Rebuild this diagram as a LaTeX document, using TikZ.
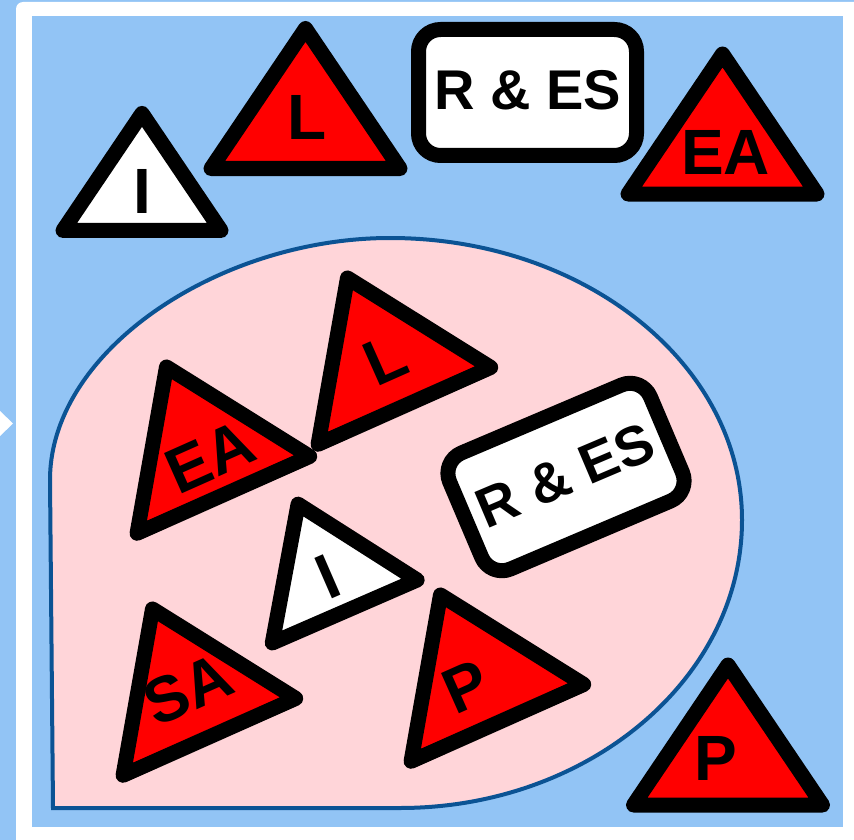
\documentclass[tikz,border=0pt]{standalone}
\usepackage{fontspec}
\setsansfont{Liberation Sans}
\usepackage{xcolor}
\definecolor{skyback}{HTML}{92C4F5}
\definecolor{blushfill}{HTML}{FFD5D9}
\definecolor{blobline}{HTML}{0B5394}

\begin{document}
\begin{tikzpicture}[x=1pt, y=-1pt,
  sign/.style={draw=black, line width=15pt, line join=round},
  lbl/.style={font=\sffamily\bfseries\fontsize{64}{64}\selectfont, inner sep=0pt},
  boxlbl/.style={font=\sffamily\bfseries\fontsize{56}{56}\selectfont, inner sep=0pt}]
  \useasboundingbox (0,0) rectangle (854,840);
  % Background and white frame
  \fill[skyback] (0,0) rectangle (854,840);
  \fill[white, rounded corners=7pt] (16,2) rectangle (880,870);
  \fill[skyback] (32,16) rectangle (843,827);
  \fill[white] (0,411) -- (13,423.5) -- (0,436) -- cycle;
  % Pink region
  \draw[blobline, line width=4pt, fill=blushfill] (53,808) -- (50,480)
    .. controls (50,350) and (220,238) .. (390,238)
    .. controls (584,238) and (742,364) .. (742,520)
    .. controls (742,679) and (588,808) .. (400,808) -- cycle;
  % Top row: loose signs
  \begin{scope}[shift={(142,188.5)}, scale=0.836]
    \draw[sign, fill=white] (0,-89.8) -- (94.5,50.2) -- (-94.5,50.2) -- cycle;
    \node[lbl] (topI) at (0,4) {I};
  \end{scope}
  \begin{scope}[shift={(305.5,118.3)}]
    \draw[sign, fill=red] (0,-89.8) -- (94.5,50.2) -- (-94.5,50.2) -- cycle;
    \node[lbl] (topL) at (2,-1) {L};
  \end{scope}
  \begin{scope}[shift={(527.5,92.5)}]
    \draw[sign, fill=white, rounded corners=22pt] (-109,-63) rectangle (109,63);
    \node[boxlbl] (topRES) at (0,-2) {R \& ES};
  \end{scope}
  \begin{scope}[shift={(722.5,143.8)}]
    \draw[sign, fill=red] (0,-89.8) -- (94.5,50.2) -- (-94.5,50.2) -- cycle;
    \node[lbl] (topEA) at (3,9) {EA};
  \end{scope}
  \begin{scope}[shift={(728,754.8)}]
    \draw[sign, fill=red] (0,-89.8) -- (94.5,50.2) -- (-94.5,50.2) -- cycle;
    \node[lbl] (outP) at (-12,4) {P};
  \end{scope}
  % Inside the pink region: tilted signs
  \begin{scope}[shift={(203,449)}, rotate=24]
    \draw[sign, fill=red] (0,-89.8) -- (94.5,50.2) -- (-94.5,50.2) -- cycle;
    \node[lbl, rotate=24] (inEA) at (3,10) {EA};
  \end{scope}
  \begin{scope}[shift={(384,360)}, rotate=24]
    \draw[sign, fill=red] (0,-89.8) -- (94.5,50.2) -- (-94.5,50.2) -- cycle;
    \node[lbl, rotate=24] (inL) at (2,0) {L};
  \end{scope}
  \begin{scope}[shift={(566,477)}, rotate=23]
    \draw[sign, fill=white, rounded corners=22pt] (-109,-63) rectangle (109,63);
    \node[boxlbl, rotate=23] (inRES) at (0,-2) {R \& ES};
  \end{scope}
  \begin{scope}[shift={(328,573)}, rotate=23.5, scale=0.836]
    \draw[sign, fill=white] (0,-89.8) -- (94.5,50.2) -- (-94.5,50.2) -- cycle;
    \node[lbl, rotate=23.5] (inI) at (-2,4) {I};
  \end{scope}
  \begin{scope}[shift={(189,691)}, rotate=24]
    \draw[sign, fill=red] (0,-89.8) -- (94.5,50.2) -- (-94.5,50.2) -- cycle;
    \node[lbl, rotate=24] (inSA) at (0,-2) {SA};
  \end{scope}
  \begin{scope}[shift={(477,677)}, rotate=24]
    \draw[sign, fill=red] (0,-89.8) -- (94.5,50.2) -- (-94.5,50.2) -- cycle;
    \node[lbl, rotate=24] (inP) at (-14,4) {P};
  \end{scope}
\end{tikzpicture}
\end{document}
